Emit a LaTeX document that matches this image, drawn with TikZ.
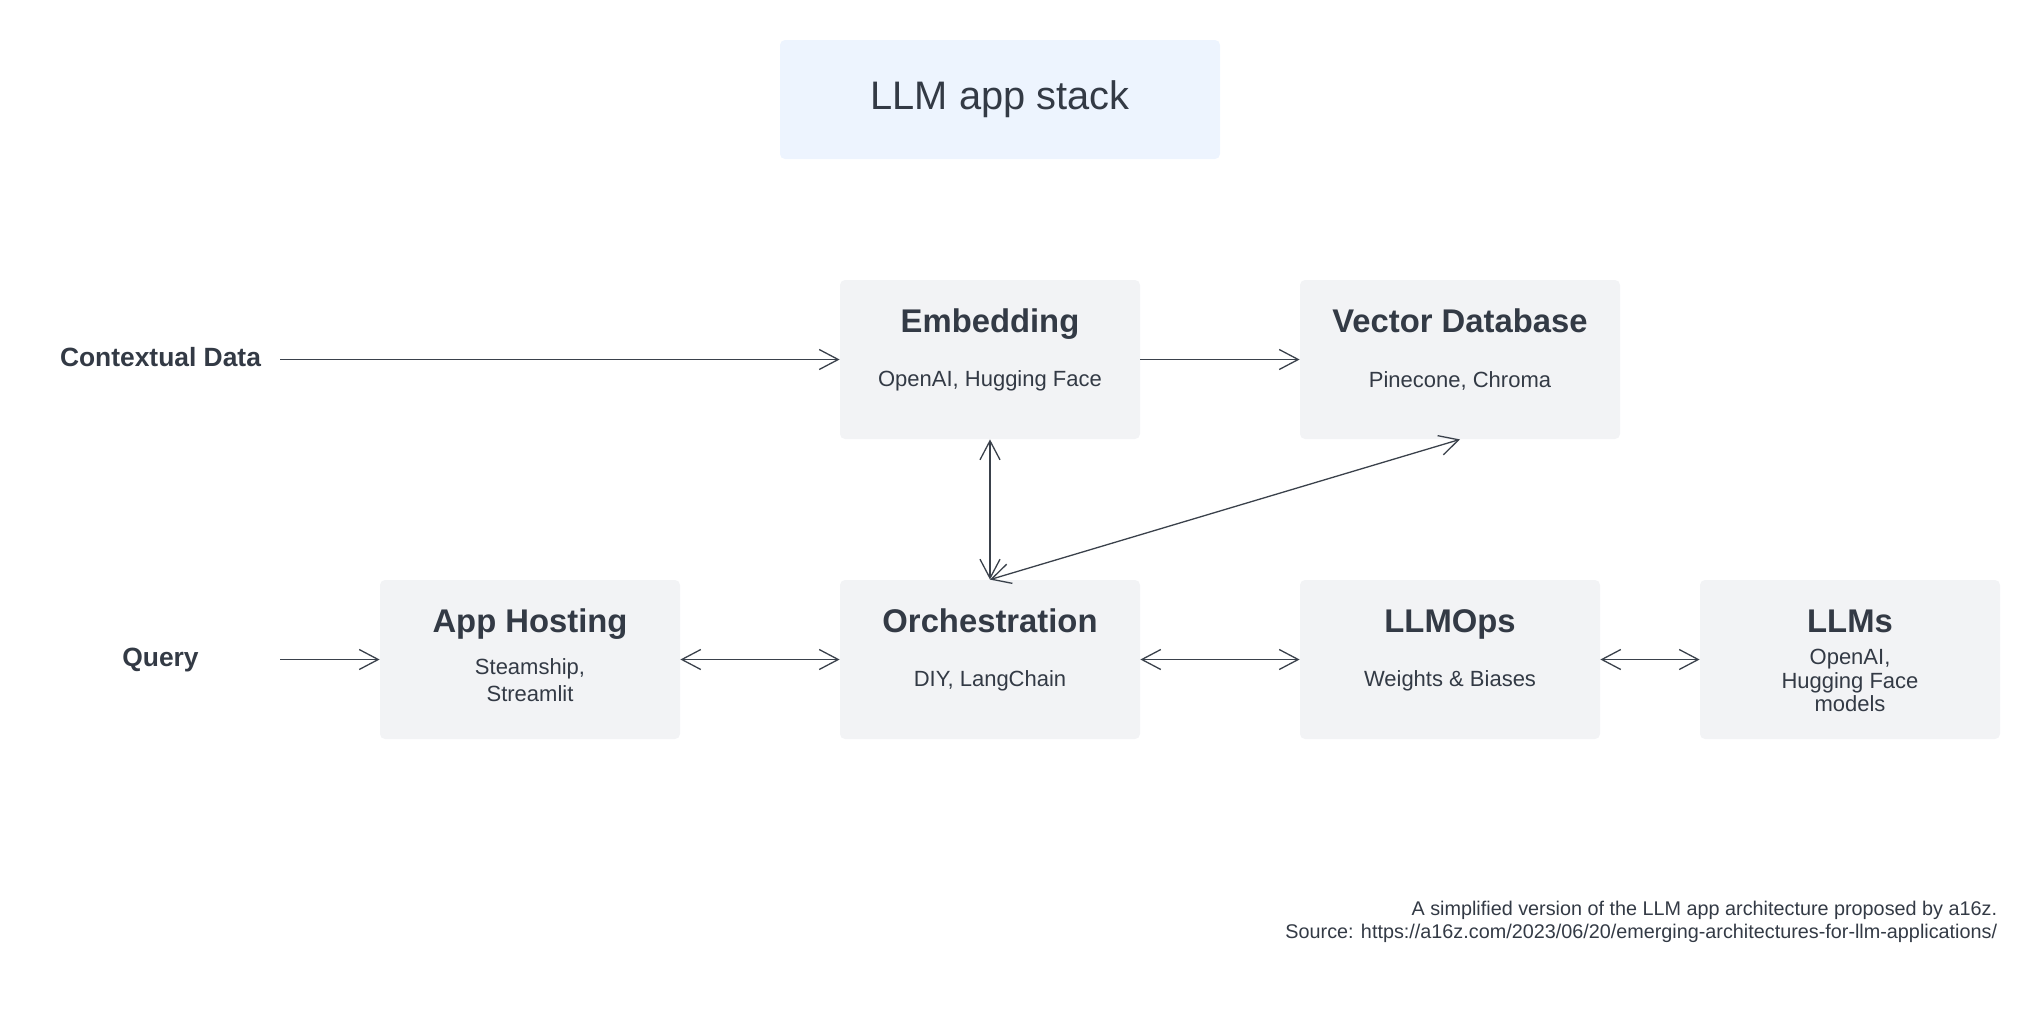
\documentclass[tikz,border=0pt]{standalone}
\usepackage{fontspec}
\setmainfont{Liberation Sans}
\usetikzlibrary{arrows.meta, positioning}

\definecolor{ink}{HTML}{333A45}
\definecolor{wire}{HTML}{3A414B}
\definecolor{boxgray}{HTML}{F2F3F5}
\definecolor{titleblue}{HTML}{EDF4FE}

\begin{document}
\begin{tikzpicture}[x=0.5pt, y=-0.5pt, >={Straight Barb[length=9.5pt,width=10pt]}]
  % Set the node styles
  \tikzset{
    stackbox/.style={fill=boxgray, rounded corners=2.5pt, minimum width=150pt, minimum height=79.5pt, inner sep=0pt},
    headtext/.style={font=\fontsize{16.4}{19}\selectfont\bfseries, text=ink, anchor=base, inner sep=0pt},
    subtext/.style={font=\fontsize{11}{11.8}\selectfont, text=ink, align=center, inner sep=0pt},
    sidelabel/.style={font=\fontsize{13.2}{16}\selectfont\bfseries, text=ink, anchor=base, inner sep=0pt},
    link/.style={draw=wire, line width=0.65pt}
  }
  \useasboundingbox (0,0) rectangle (2041,1024);

  % Title
  \node[fill=titleblue, rounded corners=2.5pt, minimum width=220pt, minimum height=59.5pt,
        font=\fontsize{19.9}{24}\selectfont, text=ink] (title) at (1000,99.5) {LLM app stack};

  % Draw the stack boxes
  \foreach \name/\x/\y in {emb/990/359.5, host/530/659.5, orch/990/659.5, ops/1450/659.5, llms/1850/659.5}{
    \node[stackbox] (\name) at (\x,\y) {};
  }
  \node[stackbox, minimum width=160pt] (vdb) at (1460,359.5) {};

  % Headings and tools inside the boxes
  \foreach \name/\head/\sub in {emb/Embedding/{OpenAI, Hugging Face}, vdb/Vector Database/{Pinecone, Chroma},
      host/App Hosting/{Steamship,\\[1.6pt]Streamlit}, orch/Orchestration/{DIY, LangChain},
      ops/LLMOps/{Weights \& Biases}, llms/LLMs/{OpenAI,\\Hugging Face\\models}}{
    \node[headtext] (\name-head) at ([yshift=-26.5pt]\name.north) {\head};
    \node[subtext] (\name-sub) at ([yshift=-10.5pt]\name.center) {\sub};
  }

  % Inputs on the left
  \node[sidelabel] (ctx) at (160.5,366) {Contextual Data};
  \node[sidelabel] (query) at (160.5,666) {Query};
  \coordinate (ctxtail) at (280,359.5);
  \coordinate (querytail) at (280,659.5);

  % Connect the boxes
  \draw[link, ->] (ctxtail) -- (emb.west);
  \draw[link, ->] (emb.east) -- (vdb.west);
  \draw[link, ->] (querytail) -- (host.west);
  \draw[link, <->] (host.east) -- (orch.west);
  \draw[link, <->] (orch.east) -- (ops.west);
  \draw[link, <->] (ops.east) -- (llms.west);
  \draw[link, <->] (emb.south) -- (orch.north);
  \draw[link, <->] (orch.north) -- (vdb.south);

  % Source note
  \node[font=\fontsize{9.9}{11.7}\selectfont, text=ink, align=right, anchor=base east, inner sep=0pt] (note)
    at (1997.5,938.5) {A simplified version of the LLM app architecture proposed by a16z.\\Source: https://a16z.com/2023/06/20/emerging-architectures-for-llm-applications/};
\end{tikzpicture}
\end{document}
